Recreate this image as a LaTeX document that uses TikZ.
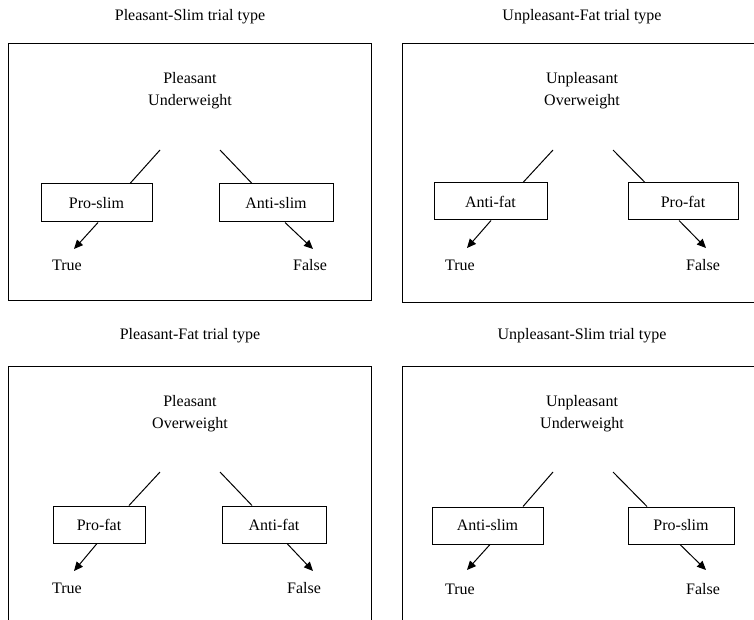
\documentclass[tikz,border=0pt]{standalone}
\usepackage{fontspec}
\setmainfont{Liberation Serif}
\usetikzlibrary{arrows.meta}
\begin{document}
\begin{tikzpicture}[x=1pt,y=-1pt,
  every node/.style={font=\fontsize{16}{19}\selectfont, inner sep=0pt},
  txt/.style={anchor=base},
  choice/.style={draw, line width=1pt, minimum height=37pt, anchor=center},
  panel/.style={draw, line width=1pt},
  link/.style={line width=1pt},
  arr/.style={line width=1pt, -{Triangle[length=9pt,width=8pt]}}]
\useasboundingbox (0,0) rectangle (754,620);
\clip (0,0) rectangle (754,620);
% ---------- panel 1: top left ----------
\draw[panel] (8,44) rectangle (371,300);
\node[txt] (t1) at (190,21) {Pleasant-Slim trial type};
\node[txt] (c1a) at (190,84) {Pleasant};
\node[txt] (c1b) at (190,106) {Underweight};
\coordinate (s1l) at (160,150);
\coordinate (s1r) at (220,150);
\node[choice, minimum width=111pt, minimum height=38pt] (b1l) at (96.5,203) {Pro-slim};
\node[choice, minimum width=114pt, minimum height=38pt] (b1r) at (276,203) {Anti-slim};
\node[txt] (y1) at (67,270) {True};
\node[txt] (n1) at (310,270) {False};
\coordinate (y1t) at (74,249);
\coordinate (n1t) at (313,249);
\draw[link] (s1l) -- ([xshift=33.5pt]b1l.north);
\draw[link] (s1r) -- ([xshift=-24pt]b1r.north);
\draw[arr] ([xshift=1.5pt]b1l.south) -- (y1t);
\draw[arr] ([xshift=9pt]b1r.south) -- (n1t);
% ---------- panel 2: top right ----------
\draw[panel] (402,44) rectangle (770,302);
\node[txt] (t2) at (582,21) {Unpleasant-Fat trial type};
\node[txt] (c2a) at (582,84) {Unpleasant};
\node[txt] (c2b) at (582,106) {Overweight};
\coordinate (s2l) at (553,150);
\coordinate (s2r) at (613,150);
\node[choice, minimum width=113pt] (b2l) at (490.5,201.5) {Anti-fat};
\node[choice, minimum width=110pt] (b2r) at (683,201.5) {Pro-fat};
\node[txt] (y2) at (460,270) {True};
\node[txt] (n2) at (703,270) {False};
\coordinate (y2t) at (467,248);
\coordinate (n2t) at (706,248);
\draw[link] (s2l) -- ([xshift=32.5pt]b2l.north);
\draw[link] (s2r) -- ([xshift=-38pt]b2r.north);
\draw[arr] ([xshift=0.5pt]b2l.south) -- (y2t);
\draw[arr] ([xshift=-4pt]b2r.south) -- (n2t);
% ---------- panel 3: bottom left ----------
\draw[panel] (8,366) rectangle (371,640);
\node[txt] (t3) at (190,339) {Pleasant-Fat trial type};
\node[txt] (c3a) at (190,406) {Pleasant};
\node[txt] (c3b) at (190,428) {Overweight};
\coordinate (s3l) at (160,472);
\coordinate (s3r) at (220,472);
\node[choice, minimum width=92pt] (b3l) at (99,524.5) {Pro-fat};
\node[choice, minimum width=104pt] (b3r) at (274,524.5) {Anti-fat};
\node[txt] (y3) at (67,593) {True};
\node[txt] (n3) at (304,593) {False};
\coordinate (y3t) at (74,571);
\coordinate (n3t) at (313,571);
\draw[link] (s3l) -- ([xshift=30pt]b3l.north);
\draw[link] (s3r) -- ([xshift=-22pt]b3r.north);
\draw[arr] ([xshift=-2pt]b3l.south) -- (y3t);
\draw[arr] ([xshift=13pt]b3r.south) -- (n3t);
% ---------- panel 4: bottom right ----------
\draw[panel] (402,366) rectangle (770,640);
\node[txt] (t4) at (582,339) {Unpleasant-Slim trial type};
\node[txt] (c4a) at (582,406) {Unpleasant};
\node[txt] (c4b) at (582,428) {Underweight};
\coordinate (s4l) at (553,472);
\coordinate (s4r) at (613,472);
\node[choice, minimum width=111pt] (b4l) at (487.5,525.5) {Anti-slim};
\node[choice, minimum width=106pt] (b4r) at (681,525.5) {Pro-slim};
\node[txt] (y4) at (460,594) {True};
\node[txt] (n4) at (703,594) {False};
\coordinate (y4t) at (467,570);
\coordinate (n4t) at (706,570);
\draw[link] (s4l) -- ([xshift=35.5pt]b4l.north);
\draw[link] (s4r) -- ([xshift=-34pt]b4r.north);
\draw[arr] ([xshift=2.5pt]b4l.south) -- (y4t);
\draw[arr] ([xshift=-1pt]b4r.south) -- (n4t);
\end{tikzpicture}
\end{document}
